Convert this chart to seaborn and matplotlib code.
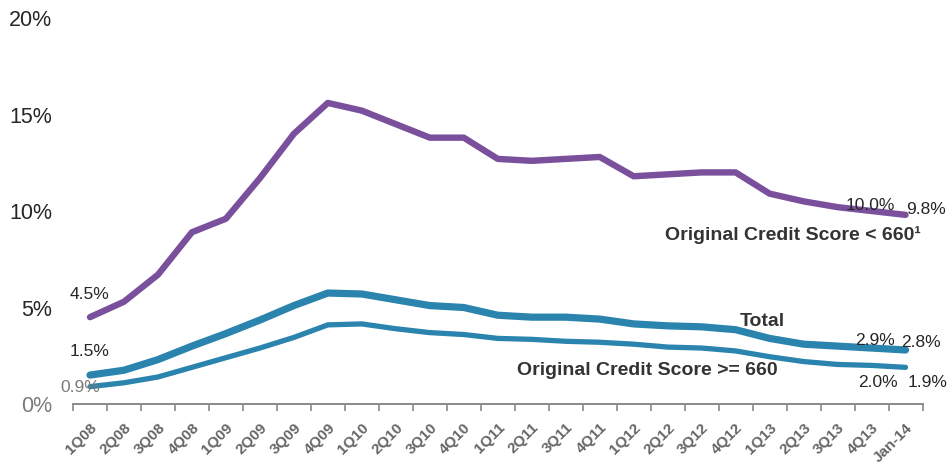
import matplotlib
matplotlib.use("Agg")
import matplotlib.pyplot as plt
import seaborn as sns
import pandas as pd
from matplotlib.ticker import FixedLocator

quarters = ["1Q08", "2Q08", "3Q08", "4Q08", "1Q09", "2Q09", "3Q09", "4Q09",
            "1Q10", "2Q10", "3Q10", "4Q10", "1Q11", "2Q11", "3Q11", "4Q11",
            "1Q12", "2Q12", "3Q12", "4Q12", "1Q13", "2Q13", "3Q13", "4Q13", "Jan-14"]

score_below_660 = [4.5, 5.3, 6.7, 8.9, 9.6, 11.7, 14.0, 15.6, 15.2, 14.5, 13.8, 13.8,
                   12.7, 12.6, 12.7, 12.8, 11.8, 11.9, 12.0, 12.0, 10.9, 10.5, 10.2, 10.0, 9.8]
total = [1.5, 1.75, 2.3, 3.0, 3.65, 4.35, 5.1, 5.75, 5.7, 5.4, 5.1, 5.0,
         4.6, 4.5, 4.5, 4.4, 4.15, 4.05, 4.0, 3.85, 3.4, 3.1, 3.0, 2.9, 2.8]
score_660_plus = [0.9, 1.1, 1.4, 1.9, 2.4, 2.9, 3.45, 4.1, 4.15, 3.9, 3.7, 3.6,
                  3.4, 3.35, 3.25, 3.2, 3.1, 2.95, 2.9, 2.75, 2.45, 2.2, 2.05, 2.0, 1.9]

y_ticks = [0, 5, 10, 15, 20]
y_tick_labels = ["0%", "5%", "10%", "15%", "20%"]

PURPLE = "#7a4f9c"
TEAL = "#2a84ae"
DARK = "#262626"
GRAY = "#7a7a7a"

sns.set_style("white")
plt.rcParams["font.family"] = ["Liberation Sans", "DejaVu Sans"]

df = pd.DataFrame({"pos": range(len(quarters)), "q": quarters,
                   "low": score_below_660, "total": total, "high": score_660_plus})

fig = plt.figure(figsize=(9.53, 4.70), dpi=100)
ax = fig.add_axes([0.0766, 0.1404, 0.8914, 0.8213])

sns.lineplot(data=df, x="pos", y="low", ax=ax, color=PURPLE, linewidth=4.6,
             solid_capstyle="round", solid_joinstyle="round")
sns.lineplot(data=df, x="pos", y="total", ax=ax, color=TEAL, linewidth=5.2,
             solid_capstyle="round", solid_joinstyle="round")
sns.lineplot(data=df, x="pos", y="high", ax=ax, color=TEAL, linewidth=3.8,
             solid_capstyle="round", solid_joinstyle="round")

ax.set_xlim(-0.5, len(quarters) - 0.5)
ax.set_ylim(0, 20)
ax.set_xlabel("")
ax.set_ylabel("")

ax.set_xticks(range(len(quarters)))
ax.set_xticklabels(quarters, rotation=45, ha="right", rotation_mode="anchor",
                   fontsize=11, color="#666666", fontweight="bold")
ax.xaxis.set_minor_locator(FixedLocator([i - 0.5 for i in range(len(quarters) + 1)]))
ax.tick_params(axis="x", which="major", length=0, pad=12)
ax.tick_params(axis="x", which="minor", length=5, width=1.2, color="#888888", bottom=True)

ax.set_yticks(y_ticks)
ax.set_yticklabels(y_tick_labels, fontsize=15.5)
for lbl in ax.get_yticklabels():
    lbl.set_color(GRAY if lbl.get_text() == "0%" else DARK)
ax.tick_params(axis="y", length=0, pad=15)

for s in ["top", "right", "left"]:
    ax.spines[s].set_visible(False)
ax.spines["bottom"].set_color("#8a8a8a")
ax.spines["bottom"].set_linewidth(1.4)
ax.grid(False)

num_kw = dict(fontsize=12.5, color=DARK, ha="center", va="center")
ax.text(0.0, 5.65, "4.5%", **num_kw)
ax.text(0.0, 2.7, "1.5%", **num_kw)
ax.text(-0.3, 0.85, "0.9%", fontsize=12.5, color=GRAY, ha="center", va="center")
ax.text(22.97, 10.3, "10.0%", **num_kw)
ax.text(24.6, 10.1, "9.8%", **num_kw)
ax.text(23.1, 3.3, "2.9%", **num_kw)
ax.text(24.45, 3.2, "2.8%", **num_kw)
ax.text(23.2, 1.09, "2.0%", **num_kw)
ax.text(24.65, 1.09, "1.9%", **num_kw)

lab_kw = dict(fontsize=14, color="#333333", fontweight="bold", ha="center", va="center")
ax.text(20.7, 8.75, "Original Credit Score < 660\u00b9", **lab_kw)
ax.text(19.8, 4.25, "Total", **lab_kw)
ax.text(16.4, 1.76, "Original Credit Score >= 660", **lab_kw)

fig.savefig("out.png", dpi=100)
